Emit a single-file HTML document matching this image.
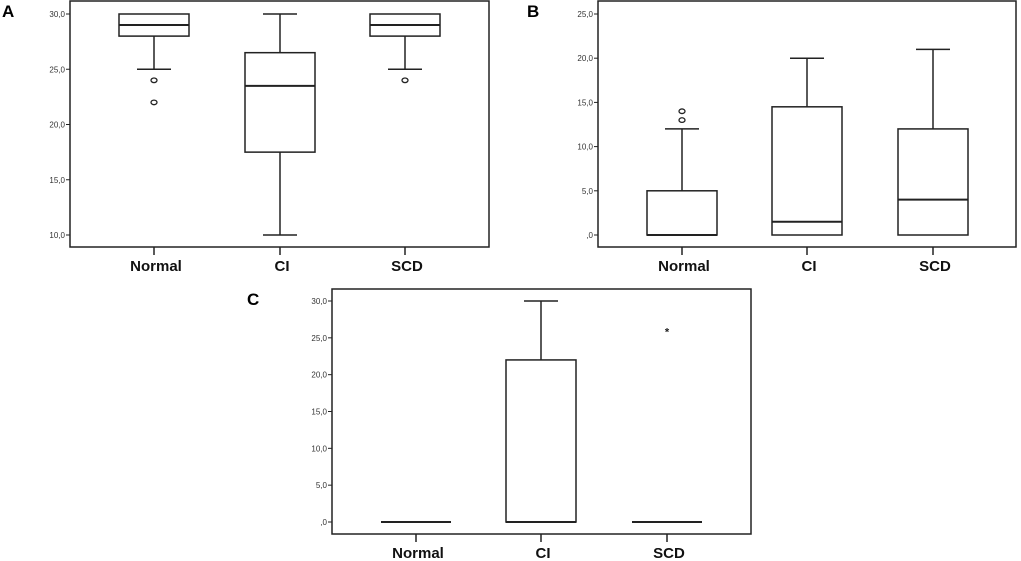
<!DOCTYPE html>
<html><head><meta charset="utf-8"><style>
html,body{margin:0;padding:0;background:#fff;}
svg{display:block;font-family:"Liberation Sans",sans-serif;}
</style></head><body>
<svg id="c" width="1021" height="561" viewBox="0 0 1021 561"></svg>
<script>
const categories = ["Normal","CI","SCD"];
// panel A: [min, q1, median, q3, max]
const statsA = [[25,28,29,30,30],[10,17.5,23.5,26.5,30],[25,28,29,30,30]];
const outliersA = [[24,22],[],[24]];
const extremesA = [[],[],[]];
const ticksA = [10,15,20,25,30];
const tickLabelsA = ["10,0","15,0","20,0","25,0","30,0"];
// panel B
const statsB = [[0,0,0,5,12],[0,0,1.5,14.5,20],[0,0,4,12,21]];
const outliersB = [[13,14],[],[]];
const extremesB = [[],[],[]];
const ticksB = [0,5,10,15,20,25];
const tickLabelsB = [",0","5,0","10,0","15,0","20,0","25,0"];
// panel C
const statsC = [[0,0,0,0,0],[0,0,0,22,30],[0,0,0,0,0]];
const outliersC = [[],[],[]];
const extremesC = [[],[],[26]];
const ticksC = [0,5,10,15,20,25,30];
const tickLabelsC = [",0","5,0","10,0","15,0","20,0","25,0","30,0"];

const svg = document.getElementById('c');
const NS = 'http://www.w3.org/2000/svg';
function mk(tag, attrs, parent){
  const e = document.createElementNS(NS, tag);
  for (const k in attrs) e.setAttribute(k, attrs[k]);
  parent.appendChild(e);
  return e;
}
function panel(id, label, lx, ly, fx1, fy1, fx2, fy2, v0, y0, v1, y1, catX, stats, outs, extr, ticks, tlabels){
  const g = mk('g', {}, svg);
  
  
  const yS = v => y0 + (v - v0) * (y1 - y0) / (v1 - v0);
  const pl = mk('text', {x:lx, y:ly, 'font-size':17, 'font-weight':'bold', fill:'#000'}, g);
  pl.textContent = label;
  
  
  const fr = mk('rect', {x:fx1, y:fy1, width:fx2-fx1, height:fy2-fy1, fill:'none', stroke:'#222', 'stroke-width':1.5}, g);
  
  
  ticks.forEach((t, i) => {
    const y = yS(t);
    const tl = mk('line', {x1:fx1-4, x2:fx1, y1:y, y2:y, stroke:'#222', 'stroke-width':1}, g);
    
    
    const tx = mk('text', {x:fx1-5, y:y+3, 'font-size':8, 'text-anchor':'end', fill:'#333'}, g);
    tx.textContent = tlabels[i];
    
    
  });
  categories.forEach((c, i) => {
    const x = catX[i];
    const s = stats[i];
    const ct = mk('line', {x1:x, x2:x, y1:fy2, y2:fy2+8, stroke:'#222', 'stroke-width':1.5}, g);
    
    
    const cl = mk('text', {x:x+2, y:fy2+24, 'font-size':15, 'font-weight':'bold', 'text-anchor':'middle', fill:'#111'}, g);
    cl.textContent = c;
    
    
    const bg = mk('g', {stroke:'#222', 'stroke-width':1.5, fill:'none'}, g);
    
    
    const hw = 35, cw = 17;
    if (s[4] > s[3]) {
      mk('line', {x1:x, x2:x, y1:yS(s[3]), y2:yS(s[4])}, bg);
      mk('line', {x1:x-cw, x2:x+cw, y1:yS(s[4]), y2:yS(s[4])}, bg);
    }
    if (s[0] < s[1]) {
      mk('line', {x1:x, x2:x, y1:yS(s[1]), y2:yS(s[0])}, bg);
      mk('line', {x1:x-cw, x2:x+cw, y1:yS(s[0]), y2:yS(s[0])}, bg);
    }
    mk('rect', {x:x-hw, y:yS(s[3]), width:2*hw, height:Math.max(0, yS(s[1]) - yS(s[3])), fill:'#fff'}, bg);
    mk('line', {x1:x-hw, x2:x+hw, y1:yS(s[2]), y2:yS(s[2]), 'stroke-width':2}, bg);
    outs[i].forEach(o => {
      const oc = mk('ellipse', {cx:x, cy:yS(o), rx:3, ry:2.3, fill:'none', stroke:'#222', 'stroke-width':1.3}, g);
      
      
    });
    extr[i].forEach(o => {
      const st = mk('text', {x:x, y:yS(o)+5, 'font-size':11, 'font-weight':'bold', 'text-anchor':'middle', fill:'#222'}, g);
      st.textContent = '*';
      
      
    });
  });
}
panel('a','A',2,17, 70,1,489,247, 30,14,10,235, [154,280,405], statsA, outliersA, extremesA, ticksA, tickLabelsA);
panel('b','B',527,17, 598,1,1016,247, 25,14,0,235, [682,807,933], statsB, outliersB, extremesB, ticksB, tickLabelsB);
panel('c','C',247,305, 332,289,751,534, 30,301,0,522, [416,541,667], statsC, outliersC, extremesC, ticksC, tickLabelsC);
</script>
</body></html>
